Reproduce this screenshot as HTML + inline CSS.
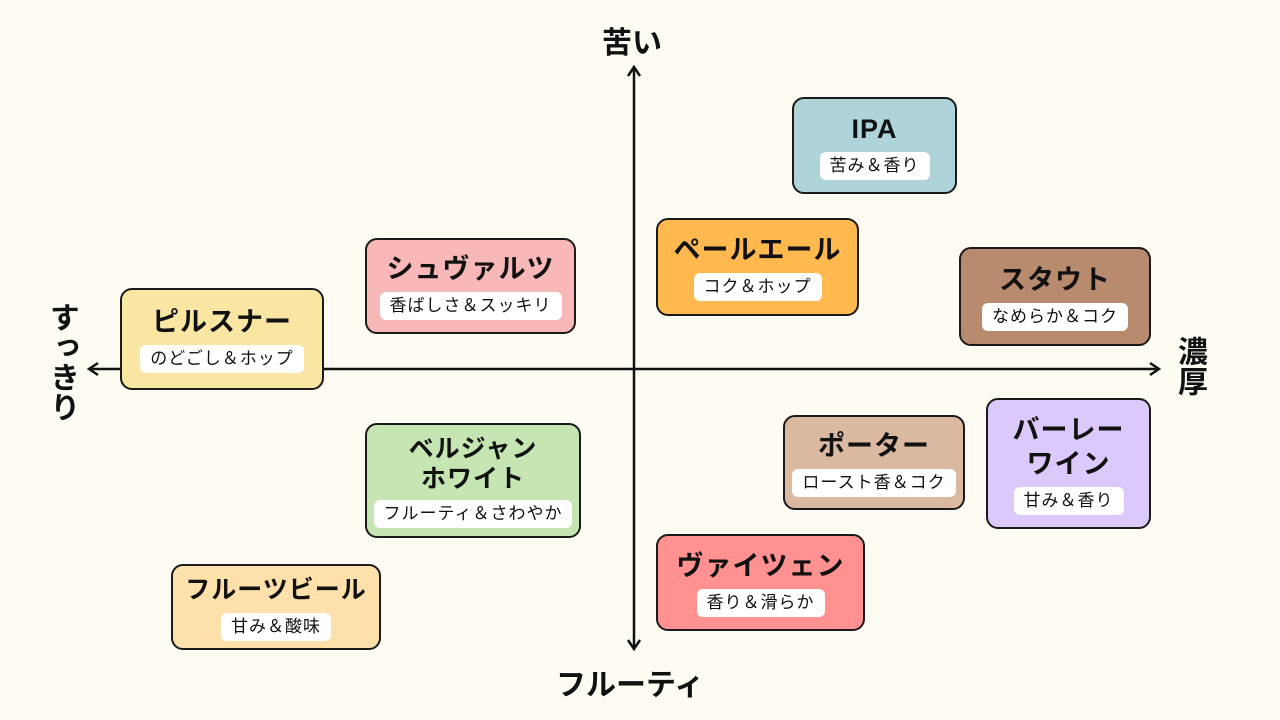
<!DOCTYPE html>
<html><head><meta charset="utf-8"><style>
body{margin:0;width:1280px;height:720px;background:#fefbf3;position:relative;overflow:hidden;font-family:"Liberation Sans","Noto Sans CJK JP",sans-serif;color:#111}
.b{position:absolute;box-sizing:border-box;border:2px solid #1a1a1a;border-radius:12px;display:flex;flex-direction:column;align-items:center;justify-content:center}
.t{font-size:27px;font-weight:bold;line-height:34px;text-align:center;letter-spacing:1px}
.s{background:#fff;border-radius:6px;font-size:17px;font-weight:normal;padding:3px 10px;margin-top:6px;letter-spacing:1px;line-height:22px}
.ax{position:absolute;font-size:30px;font-weight:bold}
.v{writing-mode:vertical-rl;line-height:34px}
</style></head><body>
<svg width="1280" height="720" style="position:absolute;left:0;top:0">
<g stroke="#111" stroke-width="2.5" fill="none">
<line x1="634" y1="68" x2="634" y2="648"/><line x1="90" y1="369" x2="1158" y2="369"/>
<polyline points="628,76 634,67 640,76"/><polyline points="628,640 634,649 640,640"/>
<polyline points="98,363 89,369 98,375"/><polyline points="1150,363 1159,369 1150,375"/>
</g></svg>
<div class="ax" style="left:602px;top:18px">苦い</div>
<div class="ax" style="left:556px;top:660px">フルーティ</div>
<div class="ax v" style="left:1172px;top:336px">濃厚</div>
<div class="ax v" style="left:44px;top:302px">すっきり</div>

<div class="b" style="left:792px;top:97px;width:165px;height:97px;background:#aed3d8"><div class="t">IPA</div><div class="s">苦み＆香り</div></div>
<div class="b" style="left:656px;top:218px;width:203px;height:98px;background:#ffb94f"><div class="t">ペールエール</div><div class="s">コク＆ホップ</div></div>
<div class="b" style="left:959px;top:247px;width:192px;height:99px;background:#b98b6e"><div class="t">スタウト</div><div class="s">なめらか＆コク</div></div>
<div class="b" style="left:365px;top:238px;width:211px;height:96px;background:#f8b8b8"><div class="t">シュヴァルツ</div><div class="s">香ばしさ＆スッキリ</div></div>
<div class="b" style="left:120px;top:288px;width:204px;height:102px;background:#f9e6a2"><div class="t">ピルスナー</div><div class="s">のどごし＆ホップ</div></div>
<div class="b" style="left:365px;top:423px;width:216px;height:115px;background:#c5e6b3"><div class="t" style="font-size:25px;line-height:30px">ベルジャン<br>ホワイト</div><div class="s">フルーティ＆さわやか</div></div>
<div class="b" style="left:783px;top:415px;width:182px;height:95px;background:#dbb8a0"><div class="t">ポーター</div><div class="s">ロースト香＆コク</div></div>
<div class="b" style="left:986px;top:398px;width:165px;height:131px;background:#dbc9fb"><div class="t">バーレー<br>ワイン</div><div class="s">甘み＆香り</div></div>
<div class="b" style="left:656px;top:534px;width:209px;height:97px;background:#ff9190"><div class="t">ヴァイツェン</div><div class="s">香り＆滑らか</div></div>
<div class="b" style="left:171px;top:564px;width:210px;height:86px;background:#fde0aa"><div class="t" style="font-size:25px">フルーツビール</div><div class="s">甘み＆酸味</div></div>
</body></html>
